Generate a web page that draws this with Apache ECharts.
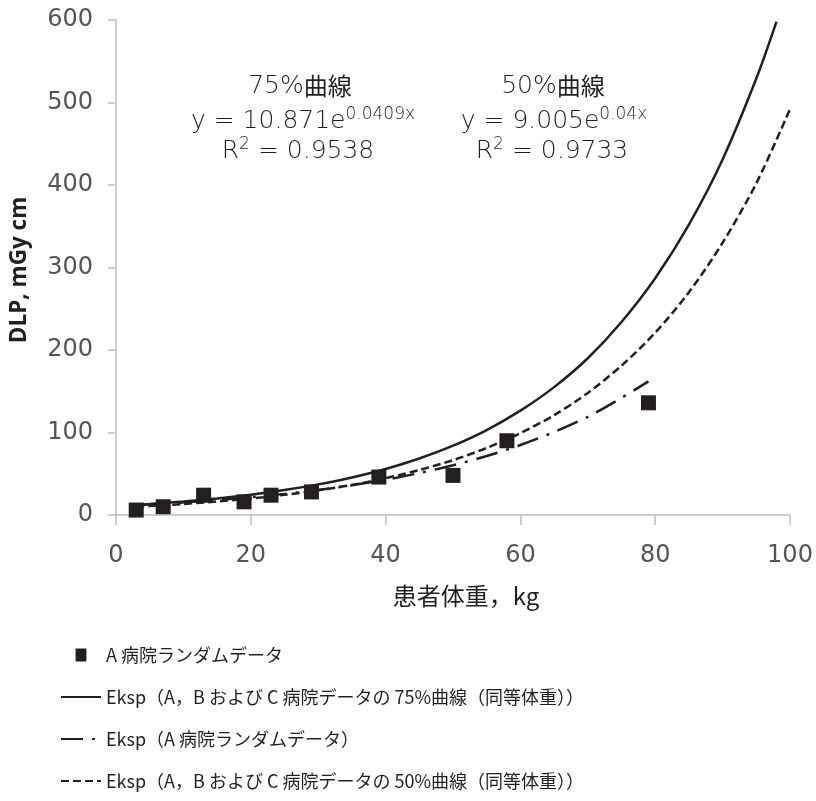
<!DOCTYPE html>
<html>
<head>
<meta charset="utf-8">
<script src="https://cdn.jsdelivr.net/npm/echarts@6/dist/echarts.min.js"></script>
<style>
html,body{margin:0;padding:0;background:#fff;}
#chart{width:816px;height:801px;}
</style>
</head>
<body>
<div id="chart"></div>
<script>
//A病院の実測データ（体重kg, DLP）
var weights = [3, 7, 13, 19, 23, 29, 39, 50, 58, 79];
var dlpA = [6, 10, 24, 16, 24, 28, 46, 48, 90, 136];

//75%曲線
var curve75X = [3, 5, 10, 15, 20, 25, 30, 35, 40, 45, 50, 55, 60, 65, 70, 75, 80, 85, 90, 95, 98];
var curve75Y = [12.3, 13.3, 16.4, 20.1, 24.6, 30.2, 37.1, 45.5, 55.8, 68.5, 84, 103, 126.5, 155, 190, 234, 287, 352, 431, 529, 598];

//50%曲線
var curve50X = [3, 5, 10, 15, 20, 25, 30, 35, 40, 45, 50, 55, 60, 65, 70, 75, 80, 85, 90, 95, 100];
var curve50Y = [10.1, 11, 13.4, 16.4, 20, 24.5, 29.9, 36.5, 44.6, 54.5, 66.5, 81.3, 99.3, 121, 148, 181, 221, 270, 330, 402, 492];

//A病院ランダムデータの近似曲線
var curveAX = [3, 5, 10, 15, 20, 25, 30, 35, 40, 45, 50, 55, 60, 65, 70, 75, 79];
var curveAY = [12, 12.9, 15.3, 18.2, 21.6, 25.6, 30.4, 36.1, 42.8, 50.8, 60.3, 71.5, 84.8, 100.6, 119, 142, 162];

var seriesNames = [
	'A 病院ランダムデータ',
	'Eksp（A，B および C 病院データの 75%曲線（同等体重））',
	'Eksp（A 病院ランダムデータ）',
	'Eksp（A，B および C 病院データの 50%曲線（同等体重））'
];

var ink = '#231f20';
var axisColor = '#bfbfbf';
var jpFont = '"Noto Sans CJK JP", sans-serif';

function pairs(xs, ys)
{
	var out = [];
	for(var i=0;i<xs.length;i++)
	{
		out.push([xs[i], ys[i]]);
	}
	return out;
}

//注釈テキストの書式（上付き文字付き）
var noteRich = {
	n: {fontFamily: 'DejaVu Sans', fontWeight: 200, fontSize: 25, fill: ink, lineHeight: 30},
	k: {fontFamily: 'Noto Sans CJK JP', fontSize: 24, fill: ink, lineHeight: 30},
	s: {fontFamily: 'DejaVu Sans', fontWeight: 200, fontSize: 17, fill: ink, lineHeight: 18, verticalAlign: 'top'}
};
function noteLine(x, y, text)
{
	return {type: 'text', x: x, y: y, z: 10, style: {text: text, align: 'center', verticalAlign: 'middle', rich: noteRich}};
}
//凡例の線アイコンの点を隠す
var hideDot = {color: 'rgba(0,0,0,0)', borderWidth: 0, opacity: 0};

var myChart = echarts.init(document.getElementById('chart'));
var option = {
	backgroundColor: '#fff',
	animation: false,
	grid: {left: 116, right: 26, top: 20, bottom: 286},
	xAxis: {
		type: 'value', min: 0, max: 100, interval: 20,
		axisLine: {lineStyle: {color: axisColor, width: 1.5}},
		axisTick: {show: true, length: 10, lineStyle: {color: axisColor, width: 1.5}},
		axisLabel: {fontFamily: 'DejaVu Sans', fontSize: 24, color: '#555555', margin: 29},
		splitLine: {show: false}
	},
	yAxis: {
		type: 'value', min: 0, max: 600, interval: 100,
		axisLine: {show: true, lineStyle: {color: axisColor, width: 1.5}},
		axisTick: {show: true, length: 8, lineStyle: {color: axisColor, width: 1.5}},
		axisLabel: {fontFamily: 'DejaVu Sans', fontSize: 24, color: '#555555', margin: 23},
		splitLine: {show: false}
	},
	legend: {
		orient: 'vertical', left: 60, top: 645, padding: 0,
		itemWidth: 40, itemHeight: 13, itemGap: 22, symbolKeepAspect: true,
		textStyle: {fontFamily: jpFont, fontSize: 18, color: ink, lineHeight: 20},
		data: [
			{name: seriesNames[0], icon: 'path://M0,0 L10,0 L10,12 L0,12 Z'},
			{name: seriesNames[1], itemStyle: hideDot},
			{name: seriesNames[2], itemStyle: hideDot},
			{name: seriesNames[3], itemStyle: hideDot}
		]
	},
	series: [
		{
			name: seriesNames[0], type: 'scatter', symbol: 'rect', symbolSize: 15, z: 5,
			itemStyle: {color: ink, opacity: 1},
			data: pairs(weights, dlpA)
		},
		{
			name: seriesNames[1], type: 'line', smooth: 0.3, showSymbol: false, symbol: 'none',
			lineStyle: {color: ink, width: 2.5, type: 'solid'},
			itemStyle: {color: ink},
			data: pairs(curve75X, curve75Y)
		},
		{
			name: seriesNames[2], type: 'line', smooth: 0.3, showSymbol: false, symbol: 'none',
			lineStyle: {color: ink, width: 2.5, type: [22, 9, 3, 9]},
			itemStyle: {color: ink},
			data: pairs(curveAX, curveAY)
		},
		{
			name: seriesNames[3], type: 'line', smooth: 0.3, showSymbol: false, symbol: 'none',
			lineStyle: {color: ink, width: 2.5, type: [8, 4]},
			itemStyle: {color: ink},
			data: pairs(curve50X, curve50Y)
		}
	],
	graphic: [
		noteLine(300, 86, '{n|75%}{k|曲線}'),
		noteLine(303, 121, '{n|y = 10.871e}{s|0.0409x}'),
		noteLine(298, 151, '{n|R}{s|2}{n| = 0.9538}'),
		noteLine(553, 86, '{n|50%}{k|曲線}'),
		noteLine(554, 121, '{n|y = 9.005e}{s|0.04x}'),
		noteLine(552, 151, '{n|R}{s|2}{n| = 0.9733}'),
		//軸タイトル
		{type: 'text', x: 466, y: 596, style: {text: '患者体重，kg', align: 'center', verticalAlign: 'middle',
			fontFamily: 'Noto Sans CJK JP', fontSize: 24, fill: ink}},
		{type: 'text', x: 20, y: 270, rotation: Math.PI / 2, style: {text: 'DLP, mGy cm', align: 'center', verticalAlign: 'middle',
			fontFamily: 'Open Sans', fontWeight: 'bold', fontSize: 22.5, fill: ink}}
	]
};
myChart.setOption(option);
</script>
</body>
</html>
